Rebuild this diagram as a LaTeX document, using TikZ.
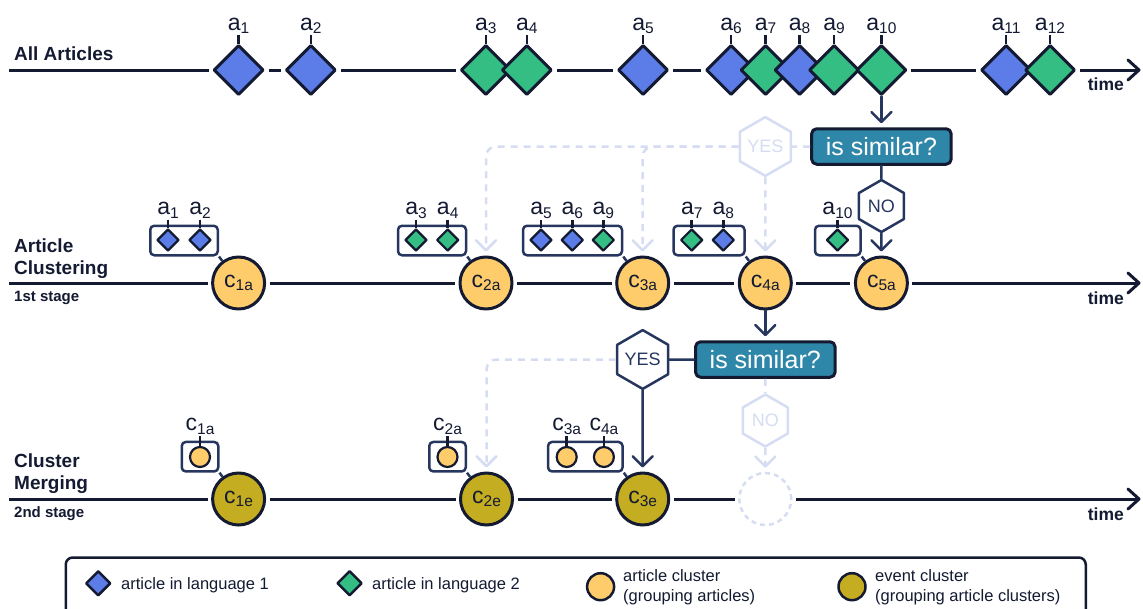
\documentclass[tikz,border=0pt]{standalone}
\usepackage{fontspec}
\setmainfont{Liberation Sans}
\usetikzlibrary{arrows.meta,shapes.geometric}
\definecolor{ink}{HTML}{131A31}
\definecolor{navy}{HTML}{27365F}
\definecolor{langA}{HTML}{5C7CE8}
\definecolor{langB}{HTML}{35BE83}
\definecolor{artcl}{HTML}{FECC6B}
\definecolor{evtcl}{HTML}{C5AD22}
\definecolor{askfill}{HTML}{2E86A8}
\definecolor{pale}{HTML}{D6DDF2}
% letter with a lowered index, e.g. a_1 or c_{1a}
\newcommand{\lbl}[2]{#1\raisebox{-3.5pt}{\fontsize{15.5}{15.5}\selectfont #2}}
\begin{document}
\begin{tikzpicture}[x=1pt,y=-1pt,line join=round,
  every node/.style={text=ink},
  tl/.style={draw=ink,line width=3pt,shorten <=3.5pt,shorten >=3.5pt},
  tlend/.style={tl,-{Straight Barb[length=11pt,width=20pt,round]}},
  art/.style={diamond,aspect=1,draw=ink,line width=3pt,minimum size=50pt,inner sep=0pt},
  mini/.style={diamond,aspect=1,draw=ink,line width=2.2pt,minimum size=22pt,inner sep=0pt},
  lab/.style={font=\fontsize{23}{23}\selectfont,inner sep=0pt,anchor=base},
  tick/.style={draw=ink,line width=2.5pt,shorten <=1.5pt},
  clu/.style={circle,draw=ink,line width=3pt,minimum size=52pt,inner sep=0pt,font=\fontsize{23}{23}\selectfont},
  cluA/.style={clu,fill=artcl},
  cluE/.style={clu,fill=evtcl},
  ghost/.style={circle,draw=pale,line width=2.5pt,dash pattern=on 5pt off 4pt,minimum size=52pt,inner sep=0pt},
  dot/.style={circle,draw=ink,fill=artcl,line width=2.2pt,minimum size=20pt,inner sep=0pt},
  grp/.style={draw=navy,line width=2.5pt,rounded corners=4pt,inner sep=0pt,minimum height=29.5pt},
  link/.style={draw=navy,line width=2.5pt},
  ask/.style={draw=ink,fill=askfill,line width=3pt,rounded corners=5pt,minimum width=139.5pt,minimum height=35.5pt,inner sep=0pt,text=white,font=\fontsize{25}{25}\selectfont},
  hex/.style={regular polygon,regular polygon sides=6,shape border rotate=30,minimum size=52pt,inner sep=0pt,line width=2.5pt,fill=white,font=\fontsize{18}{18}\selectfont},
  hexon/.style={hex,draw=navy,text=navy},
  hexoff/.style={hex,draw=pale,text=pale},
  flow/.style={draw=navy,line width=2.5pt,line cap=round},
  flowarr/.style={flow,shorten >=4pt,-{Straight Barb[length=10pt,width=20pt,round]}},
  ghostflow/.style={draw=pale,line width=2.5pt,dash pattern=on 7pt off 6pt,rounded corners=10pt},
  ghostarr/.style={ghostflow,shorten >=4pt,-{Straight Barb[length=10pt,width=20pt,round]}},
  head/.style={font=\fontsize{19}{19}\selectfont\bfseries,inner sep=0pt,anchor=base west},
  stage/.style={font=\fontsize{15}{15}\selectfont\bfseries,inner sep=0pt,anchor=base west},
  timelab/.style={font=\fontsize{17.5}{17.5}\selectfont\bfseries,inner sep=0pt,anchor=base east},
  legtext/.style={font=\fontsize{16.5}{16.5}\selectfont,inner sep=0pt,anchor=base west},
  legbox/.style={draw=ink,line width=2.5pt,rounded corners=7pt,minimum width=1020pt,minimum height=68pt,inner sep=0pt}
]
\useasboundingbox (0,0) rectangle (1143,608);

% ---------- row titles ----------
\node[head] (hall) at (14,60.7) {All Articles};
\node[head] (hart1) at (14,252.7) {Article};
\node[head] (hart2) at (14,274.2) {Clustering};
\node[stage] (st1) at (14,301.7) {1st stage};
\node[head] (hcl1) at (14,467.3) {Cluster};
\node[head] (hcl2) at (14,489.3) {Merging};
\node[stage] (st2) at (14,517.7) {2nd stage};

\node[timelab] (t1) at (1124,90.5) {time};
\node[timelab] (t2) at (1124,304) {time};
\node[timelab] (t3) at (1124,520) {time};

% ---------- all articles ----------
\foreach \n/\x/\col in {1/238.6/langA,2/310.8/langA,3/485.8/langB,4/526.8/langB,
  5/643/langA,6/731/langA,7/765.5/langB,8/799.5/langA,9/834/langB,10/881.4/langB,
  11/1006/langA,12/1050/langB}{
  \node[art,fill=\col] (a\n) at (\x,70) {};
  \node[lab] (la\n) at (\x,30) {\lbl{a}{\n}};
  \draw[tick] (la\n.south) -- (a\n.north);
}
\coordinate (s1) at (5.5,70);
\coordinate (e1) at (1144,70);
\draw[tl] (s1) -- (a1);
\draw[tl] (a1) -- (a2);
\draw[tl] (a2) -- (a3);
\draw[tl] (a4) -- (a5);
\draw[tl] (a5) -- (a6);
\draw[tl] (a10) -- (a11);
\draw[tlend] (a12) -- (e1);

% ---------- first stage: article clusters ----------
\node[cluA] (c1a) at (238.6,283) {\lbl{c}{1a}};
\node[cluA] (c2a) at (486,283) {\lbl{c}{2a}};
\node[cluA] (c3a) at (642.7,283) {\lbl{c}{3a}};
\node[cluA] (c4a) at (765.3,283) {\lbl{c}{4a}};
\node[cluA] (c5a) at (881.4,283) {\lbl{c}{5a}};
\coordinate (s2) at (5.5,283);
\coordinate (e2) at (1144,283);
\draw[tl] (s2) -- (c1a);
\draw[tl] (c1a) -- (c2a);
\draw[tl] (c2a) -- (c3a);
\draw[tl] (c3a) -- (c4a);
\draw[tl] (c4a) -- (c5a);
\draw[tlend] (c5a) -- (e2);

\node[grp,minimum width=67.5pt] (g1) at (184,240.5) {};
\node[grp,minimum width=68pt] (g2) at (432,240.5) {};
\node[grp,minimum width=99pt] (g3) at (572.5,240.5) {};
\node[grp,minimum width=71pt] (g4) at (709,240.5) {};
\node[grp,minimum width=45.5pt] (g5) at (837.75,240.5) {};
\foreach \m/\x/\col/\t in {1/168/langA/1,2/200/langA/2,3/416/langB/3,4/447.7/langB/4,
  5/541/langA/5,6/572.3/langA/6,7/603.3/langB/9,8/691.7/langB/7,9/723.3/langA/8,
  10/837.5/langB/10}{
  \node[mini,fill=\col] (m\m) at (\x,240) {};
  \node[lab] (lm\m) at (\x,214.5) {\lbl{a}{\t}};
  \draw[tick] (lm\m.south) -- (m\m.north);
}
\draw[link] (g1.south east) -- (c1a);
\draw[link] (g2.south east) -- (c2a);
\draw[link] (g3.south east) -- (c3a);
\draw[link] (g4.south east) -- (c4a);
\draw[link] (g5.south east) -- (c5a);

% first similarity test
\node[ask] (q1) at (881.4,146.5) {is similar?};
\node[hexoff] (yes1) at (765.3,146.5) {YES};
\node[hexon] (no1) at (881.4,206) {NO};
\draw[flowarr] (a10.south) -- (q1.north);
\draw[ghostflow] (q1.west) -- (yes1.east);
\draw[ghostarr] (yes1.west) -| (c2a.north);
\draw[ghostarr] (yes1.west) -| (c3a.north);
\draw[ghostarr] (yes1.south) -- (c4a.north);
\draw[flow] (q1.south) -- (no1.north);
\draw[flowarr] (no1.south) -- (c5a.north);

% ---------- second stage: event clusters ----------
\node[cluE] (c1e) at (238.6,499) {\lbl{c}{1e}};
\node[cluE] (c2e) at (486.5,499) {\lbl{c}{2e}};
\node[cluE] (c3e) at (642.7,499) {\lbl{c}{3e}};
\node[ghost] (cnew) at (765.3,499) {};
\coordinate (s3) at (5.5,499);
\coordinate (e3) at (1144,499);
\draw[tl] (s3) -- (c1e);
\draw[tl] (c1e) -- (c2e);
\draw[tl] (c2e) -- (c3e);
\draw[tl] (c3e) -- (cnew);
\draw[tlend] (cnew) -- (e3);

\node[grp,minimum width=36.5pt] (h1) at (200,456.7) {};
\node[grp,minimum width=36.5pt] (h2) at (447.5,456.7) {};
\node[grp,minimum width=74.5pt] (h3) at (585.3,456.7) {};
\foreach \d/\x/\t in {1/200/1a,2/447.5/2a,3/566.7/3a,4/603.9/4a}{
  \node[dot] (d\d) at (\x,457) {};
  \node[lab] (ld\d) at (\x,430.5) {\lbl{c}{\t}};
  \draw[tick] (ld\d.south) -- (d\d.north);
}
\draw[link] (h1.south east) -- (c1e);
\draw[link] (h2.south east) -- (c2e);
\draw[link] (h3.south east) -- (c3e);

% second similarity test
\node[ask] (q2) at (765.3,359.5) {is similar?};
\node[hexon] (yes2) at (642.7,359.5) {YES};
\node[hexoff] (no2) at (765.3,420.5) {NO};
\draw[flowarr] (c4a.south) -- (q2.north);
\draw[flow] (q2.west) -- (yes2.east);
\draw[flowarr] (yes2.south) -- (c3e.north);
\draw[ghostarr] (yes2.west) -| (c2e.north);
\draw[ghostflow] (q2.south) -- (no2.north);
\draw[ghostarr] (no2.south) -- (cnew.north);

% ---------- legend ----------
\node[legbox] (legend) at (575.75,591.5) {};
\node[diamond,aspect=1,draw=ink,fill=langA,line width=2.5pt,minimum size=25pt,inner sep=0pt] (kA) at (98.2,583.3) {};
\node[legtext] (kAt) at (121,589) {article in language 1};
\node[diamond,aspect=1,draw=ink,fill=langB,line width=2.5pt,minimum size=25pt,inner sep=0pt] (kB) at (349.6,583.3) {};
\node[legtext] (kBt) at (372,589) {article in language 2};
\node[circle,draw=ink,fill=artcl,line width=2.5pt,minimum size=27pt,inner sep=0pt] (kC) at (600.6,586.7) {};
\node[legtext] (kCt1) at (623,581.5) {article cluster};
\node[legtext] (kCt2) at (623,601) {(grouping articles)};
\node[circle,draw=ink,fill=evtcl,line width=2.5pt,minimum size=27pt,inner sep=0pt] (kE) at (852,586.7) {};
\node[legtext] (kEt1) at (875,581.5) {event cluster};
\node[legtext] (kEt2) at (875,601) {(grouping article clusters)};
\end{tikzpicture}
\end{document}
